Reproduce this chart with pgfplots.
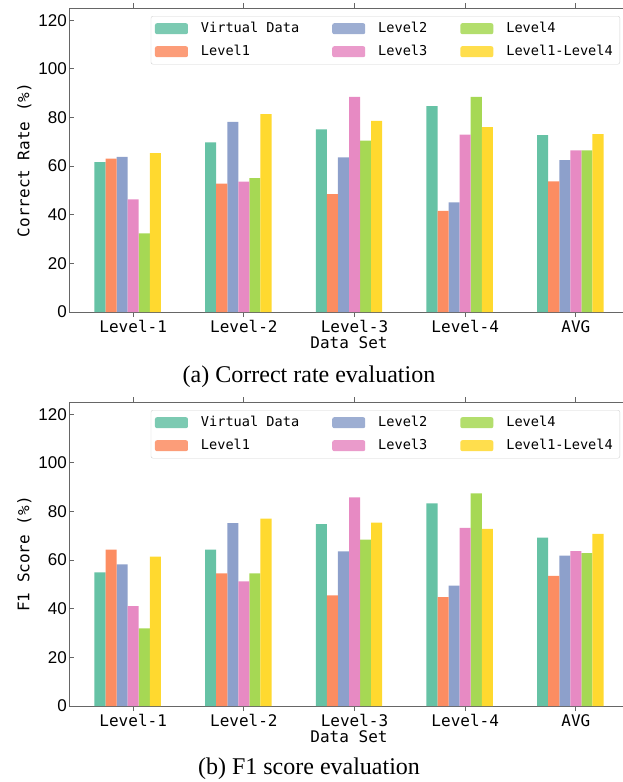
\documentclass[border=0pt]{standalone}
\usepackage{fontspec}
\setmainfont{Liberation Serif}
\newfontfamily\monofont{DejaVu Sans Mono}
\newfontfamily\numfont{Liberation Sans}
\usepackage{pgfplots}
\usepackage{pgfplotstable}
\pgfplotsset{compat=1.18}
\definecolor{cVD}{HTML}{66C2A5}
\definecolor{cLa}{HTML}{FC8D62}
\definecolor{cLb}{HTML}{8DA0CB}
\definecolor{cLc}{HTML}{E78AC3}
\definecolor{cLd}{HTML}{A6D854}
\definecolor{cLL}{HTML}{FFD92F}
\pgfplotstableread{
x VD La Lb Lc Ld LL
0 61.6 63.1 63.8 46.3 32.3 65.3
1 69.8 52.8 78.2 53.6 55.1 81.4
2 75.1 48.5 63.6 88.5 70.5 78.6
3 84.7 41.6 45.1 72.9 88.5 76.0
4 72.7 53.7 62.4 66.5 66.5 73.1
}\tcr
\pgfplotstableread{
x VD La Lb Lc Ld LL
0 54.9 64.3 58.2 41.1 31.9 61.4
1 64.3 54.5 75.2 51.2 54.5 77.0
2 74.8 45.5 63.6 85.8 68.4 75.4
3 83.3 44.8 49.5 73.2 87.4 72.8
4 69.2 53.5 61.8 63.7 62.9 70.8
}\tfone
\pgfplotsset{
  sqleg/.style={legend image code/.code={\fill[##1] (0pt,-5.5pt) rectangle (33pt,5.5pt);}},
  mystyle/.style={
    scale only axis, width=560pt, height=304pt,
    xmin=-0.58, xmax=4.48, ymin=0, ymax=125,
    xtick={0,1,2,3,4},
    xticklabels={Level-1,Level-2,Level-3,Level-4,AVG},
    ytick={0,20,40,60,80,100,120},
    tick pos=both, tick align=inside,
    major tick length=5pt,
    axis line style={line width=0.9pt, draw=black!60},
    every tick/.style={line width=0.8pt, draw=black!60},
    /pgf/number format/assume math mode=true,
    yticklabel style={font=\numfont\fontsize{17}{17}\selectfont, inner xsep=2pt},
    xticklabel style={font=\monofont\fontsize{16}{16}\selectfont, inner ysep=3pt},
    xlabel style={font=\monofont\fontsize{16}{16}\selectfont, at={(axis description cs:0.5,-0.1)}, anchor=center},
    ylabel style={font=\monofont\fontsize{16}{16}\selectfont, at={(axis description cs:-0.0795,0.5)}, anchor=center},
    ybar, bar width=0.1,
    legend columns=3,
    legend cell align=left,
    legend style={at={(rel axis cs:1,1)}, xshift=-9pt, yshift=-8pt, anchor=north east,
      font=\monofont\fontsize{13.6}{13.6}\selectfont,
      draw=black!18, rounded corners=2pt, fill=white, fill opacity=0.85, text opacity=1,
      inner xsep=4pt, inner ysep=3.5pt,
      column sep=0pt, row sep=5pt,
      nodes={inner xsep=3pt, inner ysep=3pt, text height=9.5pt, text depth=2.5pt},
      /tikz/every odd column/.append style={column sep=10pt},
      /tikz/every even column/.append style={column sep=30pt}},
  }
}
\begin{document}
\begin{tikzpicture}
\useasboundingbox (0,0) rectangle (623pt,-782pt);
\begin{axis}[mystyle, at={(69pt,-8pt)}, anchor=north west,
  xlabel={Data Set}, ylabel={Correct Rate (\%)}]
\addplot[fill=cVD, draw=none, bar shift=-0.3, sqleg] table[x=x,y=VD] {\tcr};
\addplot[fill=cLb, draw=none, bar shift=-0.1, sqleg] table[x=x,y=Lb] {\tcr};
\addplot[fill=cLd, draw=none, bar shift=0.1, sqleg] table[x=x,y=Ld] {\tcr};
\addplot[fill=cLa, draw=none, bar shift=-0.2, sqleg] table[x=x,y=La] {\tcr};
\addplot[fill=cLc, draw=none, bar shift=0, sqleg] table[x=x,y=Lc] {\tcr};
\addplot[fill=cLL, draw=none, bar shift=0.2, sqleg] table[x=x,y=LL] {\tcr};
\legend{Virtual Data, Level2, Level4, Level1, Level3, Level1-Level4}
\end{axis}
\begin{axis}[mystyle, at={(69pt,-402pt)}, anchor=north west,
  xlabel={Data Set}, ylabel={F1 Score (\%)}]
\addplot[fill=cVD, draw=none, bar shift=-0.3, sqleg] table[x=x,y=VD] {\tfone};
\addplot[fill=cLb, draw=none, bar shift=-0.1, sqleg] table[x=x,y=Lb] {\tfone};
\addplot[fill=cLd, draw=none, bar shift=0.1, sqleg] table[x=x,y=Ld] {\tfone};
\addplot[fill=cLa, draw=none, bar shift=-0.2, sqleg] table[x=x,y=La] {\tfone};
\addplot[fill=cLc, draw=none, bar shift=0, sqleg] table[x=x,y=Lc] {\tfone};
\addplot[fill=cLL, draw=none, bar shift=0.2, sqleg] table[x=x,y=LL] {\tfone};
\legend{Virtual Data, Level2, Level4, Level1, Level3, Level1-Level4}
\end{axis}
\node[font=\fontsize{24}{24}\selectfont, anchor=center] at (309pt,-377pt) {(a) Correct rate evaluation};
\node[font=\fontsize{24}{24}\selectfont, anchor=center] at (309pt,-769pt) {(b) F1 score evaluation};
\end{tikzpicture}
\end{document}
